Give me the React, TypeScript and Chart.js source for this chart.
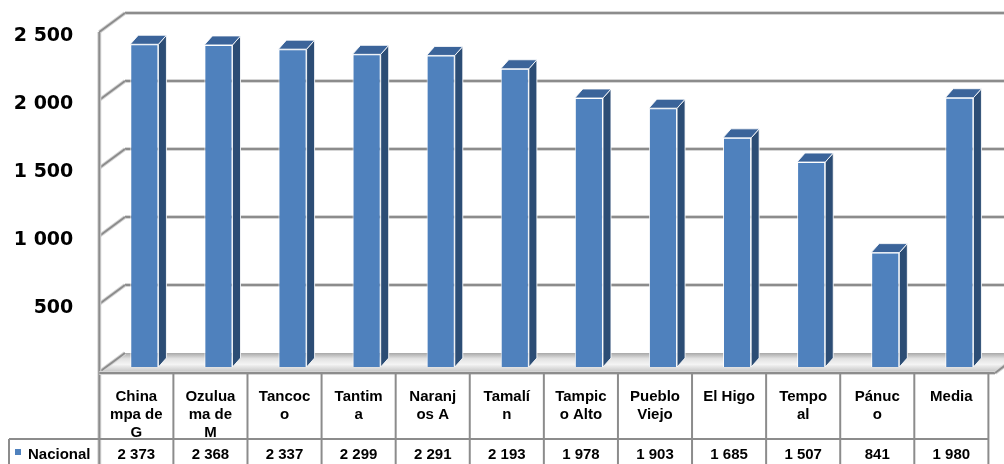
import React, { useEffect, useRef } from "react";
import { Chart, registerables } from "chart.js";

Chart.register(...registerables);

const categories = [
  "Chinampa de G", "Ozuluama de M", "Tancoco", "Tantima", "Naranjos A", "Tamalín",
  "Tampico Alto", "Pueblo Viejo", "El Higo", "Tempoal", "Pánuco", "Media",
];
const categoryLines = [
  ["China", "mpa de", "G"], ["Ozulua", "ma de", "M"], ["Tancoc", "o"], ["Tantim", "a"],
  ["Naranj", "os A"], ["Tamalí", "n"], ["Tampic", "o Alto"], ["Pueblo", "Viejo"],
  ["El Higo"], ["Tempo", "al"], ["Pánuc", "o"], ["Media"],
];
const seriesName = "Nacional";
const nacional = [2373, 2368, 2337, 2299, 2291, 2193, 1978, 1903, 1685, 1507, 841, 1980];
const yTicks = [500, 1000, 1500, 2000, 2500];

const fmt = (n: number) => String(n).replace(/\B(?=(\d{3})+(?!\d))/g, " ");

const W = 1004;
const H = 464;
const FX = -8, FY = 5; // front plane offset from bar plane
const BX = 17.7, BY = -14; // back wall offset from bar plane
const DX = 8, DY = -9; // bar depth

const threeD = {
  id: "threeD",
  beforeDatasetsDraw(chart: any) {
    const { ctx, chartArea, scales } = chart;
    const y = scales.y;
    const L = chartArea.left;
    const fx = L + FX, bx = L + BX;
    const y0 = y.getPixelForValue(0);
    const yTop = y.getPixelForValue(2500);
    ctx.save();
    // floor
    const g = ctx.createLinearGradient(0, y0 + BY, 0, y0 + FY);
    g.addColorStop(0, "#a8a8a8");
    g.addColorStop(0.3, "#e2e2e2");
    g.addColorStop(0.6, "#f4f4f4");
    g.addColorStop(1, "#c4c4c4");
    ctx.fillStyle = g;
    ctx.beginPath();
    ctx.moveTo(fx, y0 + FY);
    ctx.lineTo(995, y0 + FY);
    ctx.lineTo(995 + (BX - FX), y0 + BY);
    ctx.lineTo(bx, y0 + BY);
    ctx.closePath();
    ctx.fill();
    // gridlines
    const lineFn = (x1: number, y1: number, x2: number, y2: number) => {
      ctx.strokeStyle = "#d6d6d6";
      ctx.lineWidth = 4;
      ctx.beginPath(); ctx.moveTo(x1, y1); ctx.lineTo(x2, y2); ctx.stroke();
      ctx.strokeStyle = "#8c8c8c";
      ctx.lineWidth = 2;
      ctx.beginPath(); ctx.moveTo(x1, y1); ctx.lineTo(x2, y2); ctx.stroke();
    };
    for (const v of [0, ...yTicks]) {
      const yp = y.getPixelForValue(v);
      if (v > 0) lineFn(bx, yp + BY, W + 5, yp + BY);
      lineFn(fx, yp + FY, bx, yp + BY);
    }
    // left wall front edge
    lineFn(fx, yTop + FY, fx, H + 2);
    // floor front edge
    lineFn(fx, y0 + FY + 1, 995, y0 + FY + 1);
    lineFn(995, y0 + FY + 1, 995 + (BX - FX), y0 + BY + 1);
    ctx.restore();
  },
  afterDatasetsDraw(chart: any) {
    const { ctx } = chart;
    const meta = chart.getDatasetMeta(0);
    ctx.save();
    ctx.strokeStyle = "rgba(255,255,255,0.85)";
    ctx.lineWidth = 1;
    meta.data.forEach((bar: any) => {
      const { x, y, base, width } = bar.getProps(["x", "y", "base", "width"], true);
      const l = x - width / 2, r = x + width / 2;
      // side
      ctx.fillStyle = "#2c4d75";
      ctx.beginPath();
      ctx.moveTo(r, y);
      ctx.lineTo(r + DX, y + DY);
      ctx.lineTo(r + DX, base + DY);
      ctx.lineTo(r, base);
      ctx.closePath();
      ctx.fill();
      ctx.stroke();
      // top
      ctx.fillStyle = "#3b649a";
      ctx.beginPath();
      ctx.moveTo(l, y);
      ctx.lineTo(l + DX, y + DY);
      ctx.lineTo(r + DX, y + DY);
      ctx.lineTo(r, y);
      ctx.closePath();
      ctx.fill();
      ctx.stroke();
    });
    ctx.restore();
  },
  afterDraw(chart: any) {
    const { ctx, scales } = chart;
    const x = scales.x, y = scales.y;
    const y0 = y.getPixelForValue(0);
    const tableTop = y0 + FY + 1;
    const rowY = 439;
    const colW = x.getPixelForValue(1) - x.getPixelForValue(0);
    ctx.save();
    ctx.strokeStyle = "#8c8c8c";
    ctx.lineWidth = 2;
    const bounds: number[] = [];
    for (let i = 0; i <= nacional.length; i++) {
      bounds.push(x.getPixelForValue(0) + FX - colW / 2 + i * colW);
    }
    bounds.forEach((bx, i) => {
      if (i === 0) return;
      ctx.beginPath(); ctx.moveTo(bx, tableTop); ctx.lineTo(bx, H + 2); ctx.stroke();
    });
    ctx.beginPath(); ctx.moveTo(9, rowY); ctx.lineTo(bounds[bounds.length - 1], rowY); ctx.stroke();
    ctx.beginPath(); ctx.moveTo(9, rowY); ctx.lineTo(9, H + 2); ctx.stroke();
    // values
    ctx.fillStyle = "#000";
    ctx.font = "bold 15px 'Liberation Sans', Arial, sans-serif";
    ctx.textAlign = "center";
    ctx.textBaseline = "middle";
    nacional.forEach((v, i) => {
      ctx.fillText(fmt(v), x.getPixelForValue(i) + FX, 455);
    });
    // legend key
    ctx.fillStyle = "#4f81bd";
    ctx.fillRect(15, 449, 6, 6);
    ctx.fillStyle = "#000";
    ctx.textAlign = "left";
    ctx.fillText(seriesName, 28, 455);
    ctx.restore();
  },
};

export default function App() {
  const ref = useRef<HTMLCanvasElement>(null);
  useEffect(() => {
    if (!ref.current) return;
    const chart = new Chart(ref.current, {
      type: "bar",
      data: {
        labels: categories,
        datasets: [
          {
            label: seriesName,
            data: nacional,
            backgroundColor: "#4f81bd",
            borderColor: "rgba(255,255,255,0.85)",
            borderWidth: 1,
            barPercentage: 0.38,
            categoryPercentage: 1,
          },
        ],
      },
      plugins: [threeD],
      options: {
        responsive: false,
        animation: false,
        devicePixelRatio: 1,
        layout: { padding: { left: 0, top: 27, right: 7.6, bottom: 0 } },
        plugins: { legend: { display: false }, tooltip: { enabled: false } },
        scales: {
          x: {
            grid: { display: false, drawTicks: true, tickLength: 21 },
            border: { display: false },
            afterFit: (s: any) => { s.height = 97; },
            ticks: {
              autoSkip: false,
              maxRotation: 0,
              minRotation: 0,
              padding: 0,
              labelOffset: FX,
              color: "#000",
              font: { family: "'Liberation Sans', Arial, sans-serif", size: 15, weight: "bold", lineHeight: 1.2 },
              callback: (_v: any, i: number) => categoryLines[i],
            },
          },
          y: {
            min: 0,
            max: 2500,
            grid: { display: false, drawTicks: true, tickLength: 34 },
            border: { display: false },
            afterFit: (s: any) => { s.width = 107.3; },
            afterBuildTicks: (s: any) => { s.ticks = [0, ...yTicks].map((v) => ({ value: v })); },
            ticks: {
              padding: 0,
              labelOffset: 9,
              color: "#000",
              font: { family: "'DejaVu Sans', sans-serif", size: 19, weight: "bold" },
              callback: (v: any) => (v === 0 ? "" : fmt(Number(v))),
            },
          },
        },
      },
    });
    return () => chart.destroy();
  }, []);
  return (
    <div style={{ position: "fixed", left: 0, top: 0, width: W, height: H, background: "#fff" }}>
      <canvas ref={ref} width={W} height={H} style={{ width: W, height: H, display: "block" }} />
    </div>
  );
}
